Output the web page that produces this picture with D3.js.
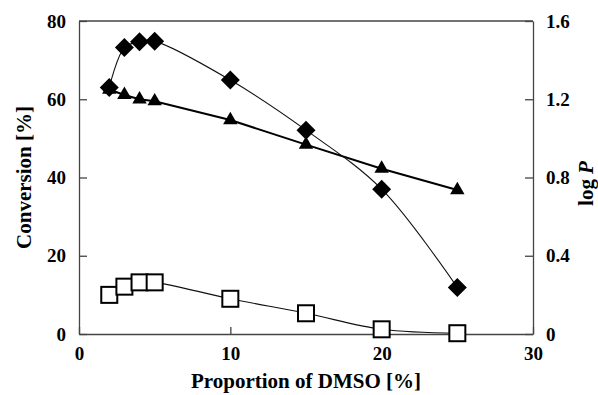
<!DOCTYPE html>
<html>
<head>
<meta charset="utf-8">
<script src="https://cdn.jsdelivr.net/npm/d3@7"></script>
<style>
  body { margin: 0; background: #fff; }
  text { font-family: "Liberation Serif", "Times New Roman", serif; font-weight: bold; fill: #000; }
</style>
</head>
<body>
<div id="chart"></div>
<script>
// Data
const dmso = [2, 3, 4, 5, 10, 15, 20, 25];
const convFilled = [63, 73.2, 74.7, 74.8, 64.9, 52.1, 37.0, 11.9];   // filled diamonds
const convOpen = [10.0, 12.1, 13.2, 13.2, 9.0, 5.3, 1.2, 0.2];       // open squares
const logP = [1.25, 1.222, 1.20, 1.19, 1.094, 0.968, 0.845, 0.736];  // triangles (right axis)
const xTicks = [0, 10, 20, 30];
const yTicks = [0, 20, 40, 60, 80];
const y2Ticks = [0, 0.4, 0.8, 1.2, 1.6];

const W = 598, H = 395;
const margin = { top: 21, right: 65, bottom: 61, left: 79 },
      width = W - margin.left - margin.right,
      height = H - margin.top - margin.bottom;

const svg = d3.select("#chart")
    .append("svg")
    .attr("width", W)
    .attr("height", H);

const g = svg.append("g")
    .attr("transform", `translate(${margin.left},${margin.top})`);

const x = d3.scaleLinear().domain([0, 30]).range([0, width]);
const y = d3.scaleLinear().domain([0, 80]).range([height, 0]);
const y2 = d3.scaleLinear().domain([0, 1.6]).range([height, 0]);

const axisColor = "#444";

// frame top
g.append("line")
    .attr("x1", 0).attr("x2", width).attr("y1", 0).attr("y2", 0)
    .attr("stroke", axisColor).attr("stroke-width", 1.3);

// axes, ticks pointing inward
function styleAxis(sel) {
    sel.attr("font-family", null).attr("font-size", null);
    sel.select(".domain").attr("stroke", axisColor).attr("stroke-width", 1.3);
    sel.selectAll(".tick line").attr("stroke", axisColor).attr("stroke-width", 1.3);
    sel.selectAll(".tick text")
        .style("font-family", "'Liberation Serif', serif")
        .style("font-weight", "bold")
        .style("font-size", "19px")
        .attr("fill", "#000");
}

g.append("g")
    .attr("transform", `translate(0,${height})`)
    .call(d3.axisBottom(x).tickValues(xTicks).tickSize(-7).tickSizeOuter(0).tickPadding(13).tickFormat(d3.format("d")))
    .call(styleAxis);

g.append("g")
    .call(d3.axisLeft(y).tickValues(yTicks).tickSize(-8).tickSizeOuter(0).tickPadding(13).tickFormat(d3.format("d")))
    .call(styleAxis);

g.append("g")
    .attr("transform", `translate(${width},0)`)
    .call(d3.axisRight(y2).tickValues(y2Ticks).tickSize(-8).tickSizeOuter(0).tickPadding(13)
        .tickFormat(d => d === 0 ? "0" : d3.format(".1f")(d)))
    .call(styleAxis);

// axis titles
svg.append("text")
    .attr("x", margin.left + width / 2)
    .attr("y", 388)
    .attr("text-anchor", "middle")
    .style("font-size", "21px")
    .text("Proportion of DMSO [%]");

svg.append("text")
    .attr("transform", `translate(31,${margin.top + height / 2}) rotate(-90)`)
    .attr("text-anchor", "middle")
    .style("font-size", "21px")
    .text("Conversion [%]");

const lp = svg.append("text")
    .attr("transform", `translate(593,${margin.top + height / 2 + 6}) rotate(-90)`)
    .attr("text-anchor", "middle")
    .style("font-size", "21px");
lp.append("tspan").text("log ");
lp.append("tspan").style("font-style", "italic").text("P");

// lines
const smooth = d3.line().curve(d3.curveCatmullRom.alpha(0.5));

g.append("path")
    .attr("d", d3.line()(dmso.map((d, i) => [x(d), y2(logP[i])])))
    .attr("fill", "none").attr("stroke", "#000").attr("stroke-width", 2);

g.append("path")
    .attr("d", smooth(dmso.map((d, i) => [x(d), y(convOpen[i])])))
    .attr("fill", "none").attr("stroke", "#111").attr("stroke-width", 1.1);

g.append("path")
    .attr("d", smooth(dmso.map((d, i) => [x(d), y(convFilled[i])])))
    .attr("fill", "none").attr("stroke", "#111").attr("stroke-width", 1.1);

// markers
g.selectAll(".tri")
    .data(dmso)
    .enter().append("path")
    .attr("class", "tri")
    .attr("d", d3.symbol(d3.symbolTriangle, 90)())
    .attr("transform", (d, i) => `translate(${x(d)},${y2(logP[i])})`)
    .attr("fill", "#000");

g.selectAll(".sq")
    .data(dmso)
    .enter().append("rect")
    .attr("class", "sq")
    .attr("x", d => x(d) - 8)
    .attr("y", (d, i) => y(convOpen[i]) - 8)
    .attr("width", 16).attr("height", 16)
    .attr("fill", "#fff").attr("stroke", "#000").attr("stroke-width", 2);

g.selectAll(".dia")
    .data(dmso)
    .enter().append("path")
    .attr("class", "dia")
    .attr("d", d3.symbol(d3.symbolSquare, 180)())
    .attr("transform", (d, i) => `translate(${x(d)},${y(convFilled[i])}) rotate(45)`)
    .attr("fill", "#000");
</script>
</body>
</html>
